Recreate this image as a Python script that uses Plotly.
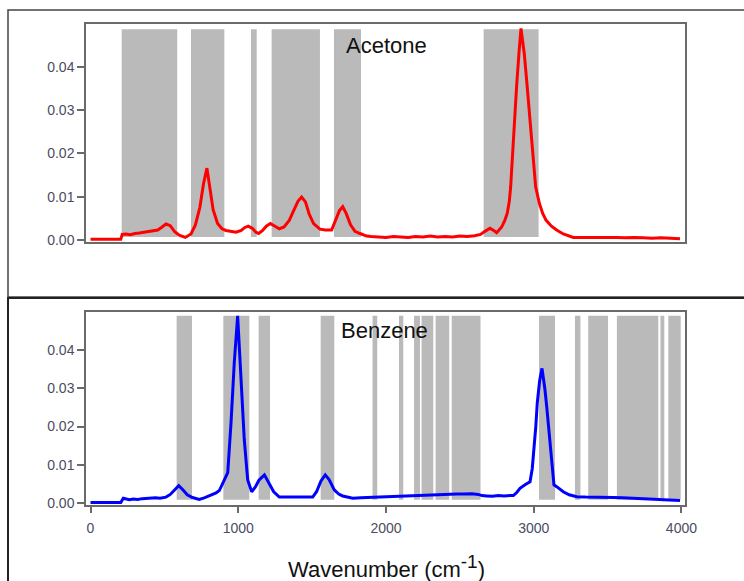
import plotly.graph_objects as go

# ---------------- data ----------------
acetone_wn = [0, 100, 205, 215, 240, 270, 300, 330, 360, 390, 420, 455, 480, 511, 540, 570, 600, 642,
              680, 710, 740, 765, 788, 805, 830, 860, 890, 917, 950, 985, 1020, 1045, 1068, 1095, 1120,
              1138, 1165, 1190, 1217, 1245, 1278, 1310, 1345, 1375, 1405, 1429, 1455, 1480, 1510, 1553,
              1590, 1632, 1660, 1685, 1707, 1730, 1760, 1790, 1824, 1869, 1900, 1950, 2000, 2050, 2100,
              2150, 2200, 2250, 2300, 2350, 2400, 2450, 2500, 2550, 2600, 2640, 2670, 2704, 2730, 2749,
              2783, 2805, 2821, 2835, 2844, 2856, 2868, 2884, 2900, 2908, 2914, 2920, 2928, 2936, 2956,
              2975, 2993, 3013, 3038, 3060, 3083, 3120, 3155, 3200, 3268, 3320, 3380, 3440, 3500, 3560,
              3620, 3680, 3740, 3800, 3860, 3920, 3960, 3990]
acetone_int = [0.0002, 0.0002, 0.0002, 0.0013, 0.0014, 0.0012, 0.0015, 0.0016, 0.0018, 0.0019, 0.0021,
               0.0023, 0.0029, 0.0037, 0.0033, 0.0019, 0.0011, 0.0006, 0.0014, 0.0035, 0.0075, 0.0130,
               0.0166, 0.0130, 0.0070, 0.0038, 0.0026, 0.0022, 0.0020, 0.0018, 0.0022, 0.0029, 0.0032,
               0.0027, 0.0018, 0.0015, 0.0022, 0.0032, 0.0038, 0.0032, 0.0026, 0.0030, 0.0045, 0.0068,
               0.0090, 0.0099, 0.0088, 0.0060, 0.0038, 0.0025, 0.0023, 0.0023, 0.0045, 0.0068, 0.0077,
               0.0062, 0.0035, 0.0020, 0.0015, 0.0009, 0.0008, 0.0007, 0.0006, 0.0008, 0.0007, 0.0006,
               0.0008, 0.0007, 0.0009, 0.0007, 0.0008, 0.0007, 0.0009, 0.0008, 0.0010, 0.0013, 0.0020,
               0.0027, 0.0022, 0.0017, 0.0030, 0.0046, 0.0062, 0.0090, 0.0123, 0.0200, 0.0277, 0.0354,
               0.0431, 0.0470, 0.0489, 0.0472, 0.0455, 0.0431, 0.0354, 0.0277, 0.0200, 0.0123, 0.0085,
               0.0062, 0.0046, 0.0032, 0.0023, 0.0014, 0.0006, 0.0006, 0.0007, 0.0006, 0.0007, 0.0006,
               0.0005, 0.0006, 0.0005, 0.0004, 0.0005, 0.0004, 0.0005, 0.0003]

benzene_wn = [0, 100, 205, 222, 245, 263, 290, 320, 350, 380, 410, 440, 470, 511, 540, 570, 597, 625,
              655, 690, 736, 770, 810, 850, 872, 895, 912, 929, 951, 973, 996, 1019, 1041, 1064, 1091,
              1115, 1140, 1177, 1205, 1240, 1278, 1320, 1380, 1440, 1504, 1530, 1560, 1589, 1615, 1650,
              1680, 1707, 1775, 1830, 1890, 1959, 2000, 2060, 2120, 2180, 2230, 2290, 2350, 2420, 2480,
              2523, 2580, 2625, 2650, 2682, 2720, 2760, 2800, 2840, 2862, 2885, 2907, 2941, 2975, 2990,
              3002, 3014, 3024, 3040, 3056, 3065, 3075, 3088, 3102, 3115, 3127, 3137, 3160, 3200, 3240,
              3291, 3350, 3420, 3480, 3538, 3600, 3660, 3720, 3780, 3840, 3900, 3950, 3990]
benzene_int = [0.0002, 0.0002, 0.0002, 0.0013, 0.0010, 0.0009, 0.0011, 0.0010, 0.0012, 0.0013, 0.0014,
               0.0014, 0.0013, 0.0016, 0.0023, 0.0036, 0.0046, 0.0035, 0.0022, 0.0015, 0.0010, 0.0014,
               0.0020, 0.0027, 0.0033, 0.0052, 0.0062, 0.0080, 0.0209, 0.0366, 0.0489, 0.0339, 0.0165,
               0.0061, 0.0030, 0.0042, 0.0060, 0.0074, 0.0055, 0.0030, 0.0016, 0.0016, 0.0016, 0.0016,
               0.0016, 0.0030, 0.0058, 0.0074, 0.0062, 0.0035, 0.0024, 0.0019, 0.0013, 0.0014, 0.0015,
               0.0017, 0.0016, 0.0017, 0.0018, 0.0019, 0.0020, 0.0021, 0.0022, 0.0023, 0.0024, 0.0024,
               0.0025, 0.0023, 0.0020, 0.0019, 0.0018, 0.0020, 0.0019, 0.0020, 0.0020, 0.0028, 0.0039,
               0.0048, 0.0056, 0.0090, 0.0139, 0.0200, 0.0261, 0.0320, 0.0352, 0.0330, 0.0300, 0.0252,
               0.0195, 0.0139, 0.0090, 0.0048, 0.0042, 0.0030, 0.0022, 0.0017, 0.0016, 0.0016, 0.0015,
               0.0015, 0.0014, 0.0013, 0.0012, 0.0011, 0.0010, 0.0009, 0.0008, 0.0007]

# highlighted wavenumber bands (start, end)
acetone_bands = [(211, 587), (680, 906), (1086, 1125), (1226, 1553), (1648, 1831), (2661, 3033)]
benzene_bands = [(583, 687), (899, 1075), (1138, 1215), (1558, 1650), (1909, 1941), (2088, 2117),
                 (2190, 2230), (2241, 2320), (2336, 2428), (2445, 2640), (3036, 3144), (3279, 3316),
                 (3369, 3503), (3563, 3843), (3858, 3884), (3911, 3995)]
acetone_band_y = (0.0007, 0.0487)
benzene_band_y = (0.0009, 0.0489)

x_ticks = [0, 1000, 2000, 3000, 4000]
y_ticks = [0.0, 0.01, 0.02, 0.03, 0.04]
y_ticklabels = ["0.00", "0.01", "0.02", "0.03", "0.04"]

# ---------------- figure ----------------
W, H = 744, 581
FONT = "Liberation Sans, Arial, sans-serif"
fig = go.Figure()
fig.add_trace(go.Scatter(x=acetone_wn, y=acetone_int, mode="lines",
                         line=dict(color="#ff0000", width=3), xaxis="x", yaxis="y", showlegend=False))
fig.add_trace(go.Scatter(x=benzene_wn, y=benzene_int, mode="lines",
                         line=dict(color="#0000ff", width=3), xaxis="x2", yaxis="y2", showlegend=False))

shapes = []
band_color = "#bababa"
for (a, b) in acetone_bands:
    shapes.append(dict(type="rect", xref="x", yref="y", x0=a, x1=b,
                       y0=acetone_band_y[0], y1=acetone_band_y[1],
                       fillcolor=band_color, line=dict(width=0), layer="below"))
for (a, b) in benzene_bands:
    shapes.append(dict(type="rect", xref="x2", yref="y2", x0=a, x1=b,
                       y0=benzene_band_y[0], y1=benzene_band_y[1],
                       fillcolor=band_color, line=dict(width=0), layer="below"))


def px(x):
    return x / W


def py(y):
    return 1 - y / H


# outer panel frames
shapes.append(dict(type="rect", xref="paper", yref="paper", x0=px(8), x1=px(760), y0=py(297), y1=py(10),
                   line=dict(color="#444444", width=1.5), fillcolor="rgba(0,0,0,0)", layer="above"))
shapes.append(dict(type="rect", xref="paper", yref="paper", x0=px(8), x1=px(760), y0=py(600), y1=py(298),
                   line=dict(color="#222222", width=2), fillcolor="rgba(0,0,0,0)", layer="above"))

xr = [-30.5, 4024]
yr = [-0.00046, 0.0499]
tickfont = dict(family=FONT, size=14, color="#4c4c62")
axis_common = dict(showgrid=False, zeroline=False, showline=True, mirror=True, automargin=False,
                   linecolor="#6a6a6a", linewidth=1.5)
ytick_common = dict(tickvals=y_ticks, ticktext=y_ticklabels, ticks="outside", ticklen=7,
                    tickcolor="#6a6a6a", tickwidth=1.5, tickfont=tickfont)

fig.update_layout(
    width=W, height=H,
    margin=dict(l=0, r=0, t=0, b=0, pad=0, autoexpand=False),
    paper_bgcolor="white", plot_bgcolor="white",
    shapes=shapes,
    xaxis=dict(domain=[px(86), px(685)], range=xr, anchor="y", showticklabels=False, ticks="",
               **axis_common),
    yaxis=dict(domain=[py(242), py(24)], range=yr, anchor="x", **ytick_common, **axis_common),
    xaxis2=dict(domain=[px(86), px(685)], range=xr, anchor="y2", tickvals=x_ticks,
                ticktext=[str(v) for v in x_ticks], ticks="outside", ticklen=6, tickcolor="#6a6a6a",
                tickwidth=1.5, tickfont=tickfont, ticklabelstandoff=3, **axis_common),
    yaxis2=dict(domain=[py(505), py(312)], range=yr, anchor="x2", **ytick_common, **axis_common),
    annotations=[
        dict(text="Acetone", xref="paper", yref="paper", x=px(386), y=py(45), xanchor="center",
             yanchor="middle", showarrow=False, font=dict(family=FONT, size=22, color="#111111")),
        dict(text="Benzene", xref="paper", yref="paper", x=px(384), y=py(330), xanchor="center",
             yanchor="middle", showarrow=False, font=dict(family=FONT, size=22, color="#111111")),
        dict(text="Wavenumber (cm<sup><span style='font-size:19px'>-1</span></sup>)", xref="paper",
             yref="paper", x=px(386), y=py(566), xanchor="center", yanchor="middle", showarrow=False,
             font=dict(family=FONT, size=22, color="#111111")),
    ],
)

fig.write_html("out.html")
